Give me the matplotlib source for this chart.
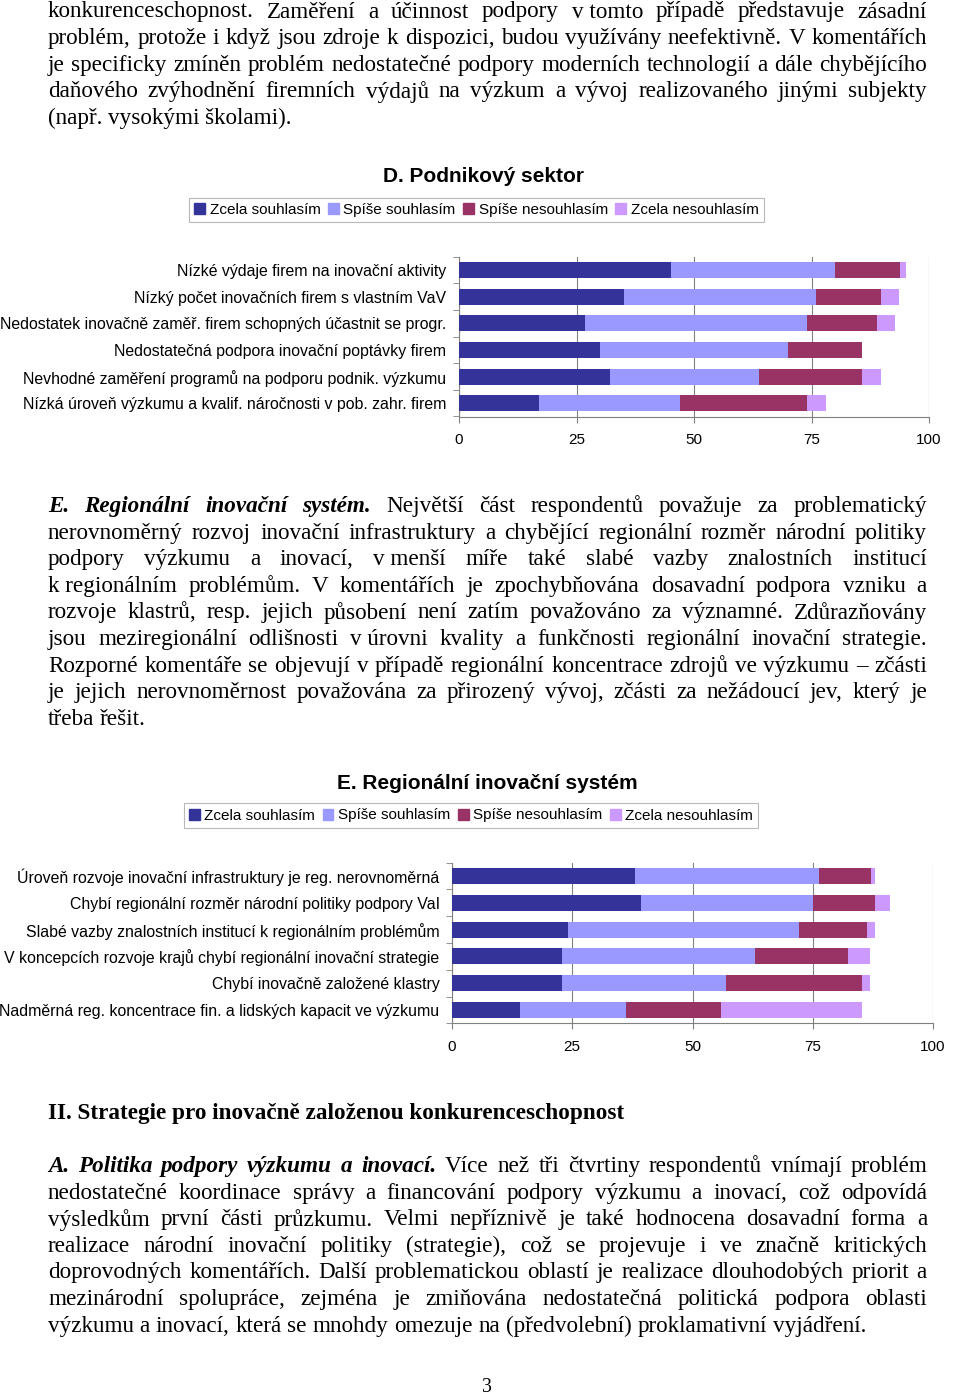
import matplotlib
matplotlib.use("Agg")
import matplotlib.pyplot as plt
from matplotlib.patches import Patch
from matplotlib.transforms import IdentityTransform

W, H = 960, 1399
SERIF = "Liberation Serif"
SANS = "Liberation Sans"

# series (percent of respondents)
series_names = ["Zcela souhlasím", "Spíše souhlasím", "Spíše nesouhlasím", "Zcela nesouhlasím"]
series_colors = ["#333399", "#9999FF", "#993366", "#CC99FF"]

d_title = "D. Podnikový sektor"
d_categories = [
    "Nízké výdaje firem na inovační aktivity",
    "Nízký počet inovačních firem s vlastním VaV",
    "Nedostatek inovačně zaměř. firem schopných účastnit se progr.",
    "Nedostatečná podpora inovační poptávky firem",
    "Nevhodné zaměření programů na podporu podnik. výzkumu",
    "Nízká úroveň výzkumu a kvalif. náročnosti v pob. zahr. firem",
]
d_zcela_souhlas = [45.0, 35.0, 26.8, 30.0, 32.1, 17.0]
d_spise_souhlas = [35.0, 41.0, 47.3, 40.0, 31.8, 30.0]
d_spise_nesouhlas = [13.8, 13.8, 14.8, 15.7, 21.8, 27.0]
d_zcela_nesouhlas = [1.2, 3.9, 3.9, 0.0, 4.0, 4.0]

e_title = "E. Regionální inovační systém"
e_categories = [
    "Úroveň rozvoje inovační infrastruktury je reg. nerovnoměrná",
    "Chybí regionální rozměr národní politiky podpory VaI",
    "Slabé vazby znalostních institucí k regionálním problémům",
    "V koncepcích rozvoje krajů chybí regionální inovační strategie",
    "Chybí inovačně založené klastry",
    "Nadměrná reg. koncentrace fin. a lidských kapacit ve výzkumu",
]
e_zcela_souhlas = [38.0, 39.2, 24.2, 22.9, 22.9, 14.2]
e_spise_souhlas = [38.3, 35.9, 47.9, 40.1, 34.1, 22.0]
e_spise_nesouhlas = [10.8, 12.9, 14.1, 19.3, 28.3, 19.8]
e_zcela_nesouhlas = [0.9, 3.0, 1.8, 4.7, 1.7, 29.3]

x_ticks = [0, 25, 50, 75, 100]

# running text of the page, broken as in the original
para1 = [
    "konkurenceschopnost. Zaměření a účinnost podpory v\u00a0tomto případě představuje zásadní",
    "problém, protože i když jsou zdroje k dispozici, budou využívány neefektivně. V komentářích",
    "je specificky zmíněn problém nedostatečné podpory moderních technologií a dále chybějícího",
    "daňového zvýhodnění firemních výdajů na výzkum a vývoj realizovaného jinými subjekty",
    "(např. vysokými školami).",
]
paraE_lead = "E. Regionální inovační systém."
paraE = [
    "E. Regionální inovační systém. Největší část respondentů považuje za problematický",
    "nerovnoměrný rozvoj inovační infrastruktury a chybějící regionální rozměr národní politiky",
    "podpory výzkumu a inovací, v\u00a0menší míře také slabé vazby znalostních institucí",
    "k\u00a0regionálním problémům. V komentářích je zpochybňována dosavadní podpora vzniku a",
    "rozvoje klastrů, resp. jejich působení není zatím považováno za významné. Zdůrazňovány",
    "jsou meziregionální odlišnosti v\u00a0úrovni kvality a funkčnosti regionální inovační strategie.",
    "Rozporné komentáře se objevují v případě regionální koncentrace zdrojů ve výzkumu – zčásti",
    "je jejich nerovnoměrnost považována za přirozený vývoj, zčásti za nežádoucí jev, který je",
    "třeba řešit.",
]
heading2 = "II. Strategie pro inovačně založenou konkurenceschopnost"
paraA_lead = "A. Politika podpory výzkumu a inovací."
paraA = [
    "A. Politika podpory výzkumu a inovací. Více než tři čtvrtiny respondentů vnímají problém",
    "nedostatečné koordinace správy a financování podpory výzkumu a inovací, což odpovídá",
    "výsledkům první části průzkumu. Velmi nepříznivě je také hodnocena dosavadní forma a",
    "realizace národní inovační politiky (strategie), což se projevuje i ve značně kritických",
    "doprovodných komentářích. Další problematickou oblastí je realizace dlouhodobých priorit a",
    "mezinárodní spolupráce, zejména je zmiňována nedostatečná politická podpora oblasti",
    "výzkumu a inovací, která se mnohdy omezuje na (předvolební) proklamativní vyjádření.",
]

fig = plt.figure(figsize=(W / 100, H / 100), dpi=100)
renderer = fig.canvas.get_renderer()
PX = IdentityTransform()

LEFT, RIGHT = 48, 927

# body font size: fit the last (unjustified) line to its width in the original
probe = fig.text(0, 0, paraA[-1], fontsize=10, family=SERIF)
BODY = 10 * 822 / probe.get_window_extent(renderer).width
probe.remove()
sp = fig.text(0, 0, "a a", fontsize=BODY, family=SERIF)
sp2 = fig.text(0, 0, "aa", fontsize=BODY, family=SERIF)
SPACE = sp.get_window_extent(renderer).width - sp2.get_window_extent(renderer).width
sp.remove()
sp2.remove()

STYLES = {
    "n": dict(),
    "bi": dict(fontweight="bold", fontstyle="italic"),
}


def draw_line(line, y, justify=True, lead=None):
    words = line.split(" ")
    nlead = len(lead.split(" ")) if lead and line.startswith(lead) else 0
    arts = []
    for i, w in enumerate(words):
        style = "bi" if i < nlead else "n"
        arts.append(fig.text(0, H - y, w, fontsize=BODY, family=SERIF, va="center",
                             ha="left", transform=PX, **STYLES[style]))
    widths = [a.get_window_extent(renderer).width for a in arts]
    gap = SPACE
    if justify and len(arts) > 1:
        gap = max((RIGHT - LEFT - sum(widths)) / (len(arts) - 1), 2)
    x = LEFT
    for a, w in zip(arts, widths):
        a.set_x(x)
        x += w + gap


def draw_para(lines, y0, lead=None, step=26.6):
    for i, line in enumerate(lines):
        draw_line(line, y0 + i * step, justify=(i < len(lines) - 1), lead=lead)


def stacked_chart(box, title, title_xy, legend_xy, categories, values):
    left, top, right, bottom = box
    ax = fig.add_axes([left / W, 1 - bottom / H, (right - left) / W, (bottom - top) / H])
    y = list(range(len(categories)))
    start = [0.0] * len(categories)
    for vals, color, name in zip(values, series_colors, series_names):
        ax.barh(y, vals, left=start, height=0.6, color=color, label=name, zorder=3)
        start = [s + v for s, v in zip(start, vals)]
    ax.set_xlim(0, 100)
    ax.set_ylim(len(categories) - 0.5, -0.5)
    ax.set_xticks(x_ticks)
    ax.set_xticklabels([str(t) for t in x_ticks], fontsize=11, family=SANS)
    ax.set_yticks(y)
    ax.set_yticklabels(categories, fontsize=11.4, family=SANS)
    ax.set_yticks([i - 0.5 for i in range(len(categories) + 1)], minor=True)
    ax.tick_params(axis="y", which="major", length=0, pad=9)
    ax.tick_params(axis="y", which="minor", length=4, color="#808080", direction="out")
    ax.tick_params(axis="x", which="major", length=4, color="#808080", direction="out", pad=8)
    ax.xaxis.grid(True, color="#808080", lw=0.8, zorder=0)
    ax.set_axisbelow(True)
    for s in ["top", "right"]:
        ax.spines[s].set_visible(False)
    for s in ["left", "bottom"]:
        ax.spines[s].set_color("#808080")
        ax.spines[s].set_linewidth(0.8)
    fig.text(title_xy[0] / W, 1 - title_xy[1] / H, title, fontsize=15, fontweight="bold",
             family=SANS, ha="center", va="center")
    handles = [Patch(color=c, label=n) for c, n in zip(series_colors, series_names)]
    leg = fig.legend(handles=handles, loc="center", ncol=4,
                     bbox_to_anchor=(legend_xy[0] / W, 1 - legend_xy[1] / H),
                     prop=dict(family=SANS, size=11), fancybox=False, frameon=True,
                     handlelength=0.7, handleheight=0.7, handletextpad=0.3,
                     columnspacing=0.5, borderpad=0.35, borderaxespad=0)
    leg.get_frame().set_edgecolor("#A6A6A6")
    leg.get_frame().set_linewidth(0.8)
    return ax


draw_para(para1, 12)

stacked_chart((459, 256.7, 929, 416.5), d_title, (483, 177), (476.5, 210), d_categories,
              [d_zcela_souhlas, d_spise_souhlas, d_spise_nesouhlas, d_zcela_nesouhlas])

draw_para(paraE, 506.5, lead=paraE_lead)

stacked_chart((452, 862.6, 933, 1023.4), e_title, (487, 783), (471, 815.5), e_categories,
              [e_zcela_souhlas, e_spise_souhlas, e_spise_nesouhlas, e_zcela_nesouhlas])

fig.text(LEFT, H - 1113, heading2, fontsize=BODY, family=SERIF, fontweight="bold",
         va="center", ha="left", transform=PX)

draw_para(paraA, 1166.5, lead=paraA_lead)

fig.text(487, H - 1387, "3", fontsize=BODY * 0.85, family=SERIF, va="center",
         ha="center", transform=PX)

fig.savefig("out.png", dpi=100)
